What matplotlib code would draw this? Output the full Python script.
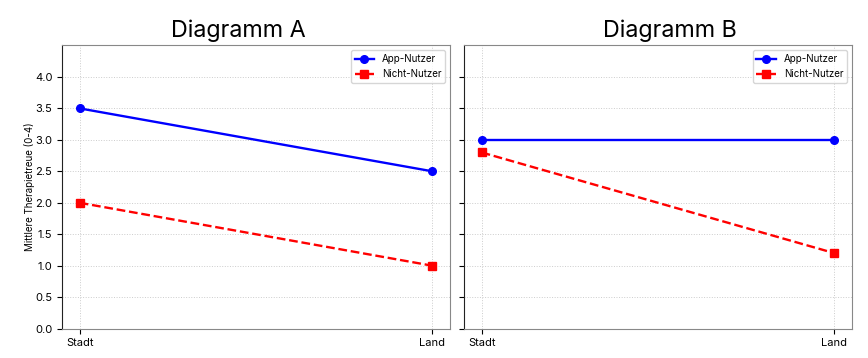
import matplotlib
matplotlib.use("Agg")
import matplotlib.pyplot as plt

plt.rcParams['font.family'] = ['Inter', 'DejaVu Sans']

categories = ["Stadt", "Land"]
titles = ["Diagramm A", "Diagramm B"]
app_a = [3.5, 2.5]
nicht_a = [2.0, 1.0]
app_b = [3.0, 3.0]
nicht_b = [2.8, 1.2]
yticks = [0.0, 0.5, 1.0, 1.5, 2.0, 2.5, 3.0, 3.5, 4.0]

fig, axes = plt.subplots(1, 2, figsize=(8.68, 3.58), dpi=100, sharey=True)
fig.subplots_adjust(left=0.0715, right=0.9815, top=0.873, bottom=0.082, wspace=0.036)

title_x = [0.455, 0.531]
data = [(app_a, nicht_a), (app_b, nicht_b)]
for ax, title, tx, (app, nicht) in zip(axes, titles, title_x, data):
    x = range(len(categories))
    ax.plot(x, app, color='blue', linestyle='-', marker='o', markersize=5.5, linewidth=1.7, label='App-Nutzer')
    ax.plot(x, nicht, color='red', linestyle='--', marker='s', markersize=5.5, linewidth=1.7, label='Nicht-Nutzer')
    ax.set_xticks(list(x))
    ax.set_xticklabels(categories, fontsize=8)
    ax.set_title(title, fontsize=16.8, pad=6, x=tx)
    ax.set_ylim(0, 4.5)
    ax.set_yticks(yticks)
    ax.tick_params(axis='y', labelsize=8)
    ax.grid(True, linestyle=':', color='#cccccc', linewidth=0.7)
    ax.legend(loc='upper right', fontsize=7)
    for s in ['top', 'right', 'bottom']:
        ax.spines[s].set_color('#888888')
    ax.spines['left'].set_color('#222222')

axes[0].set_ylabel("Mittlere Therapietreue (0-4)", fontsize=7, labelpad=0)
axes[1].tick_params(axis='y', labelleft=False)

fig.savefig("out.png", dpi=100)
